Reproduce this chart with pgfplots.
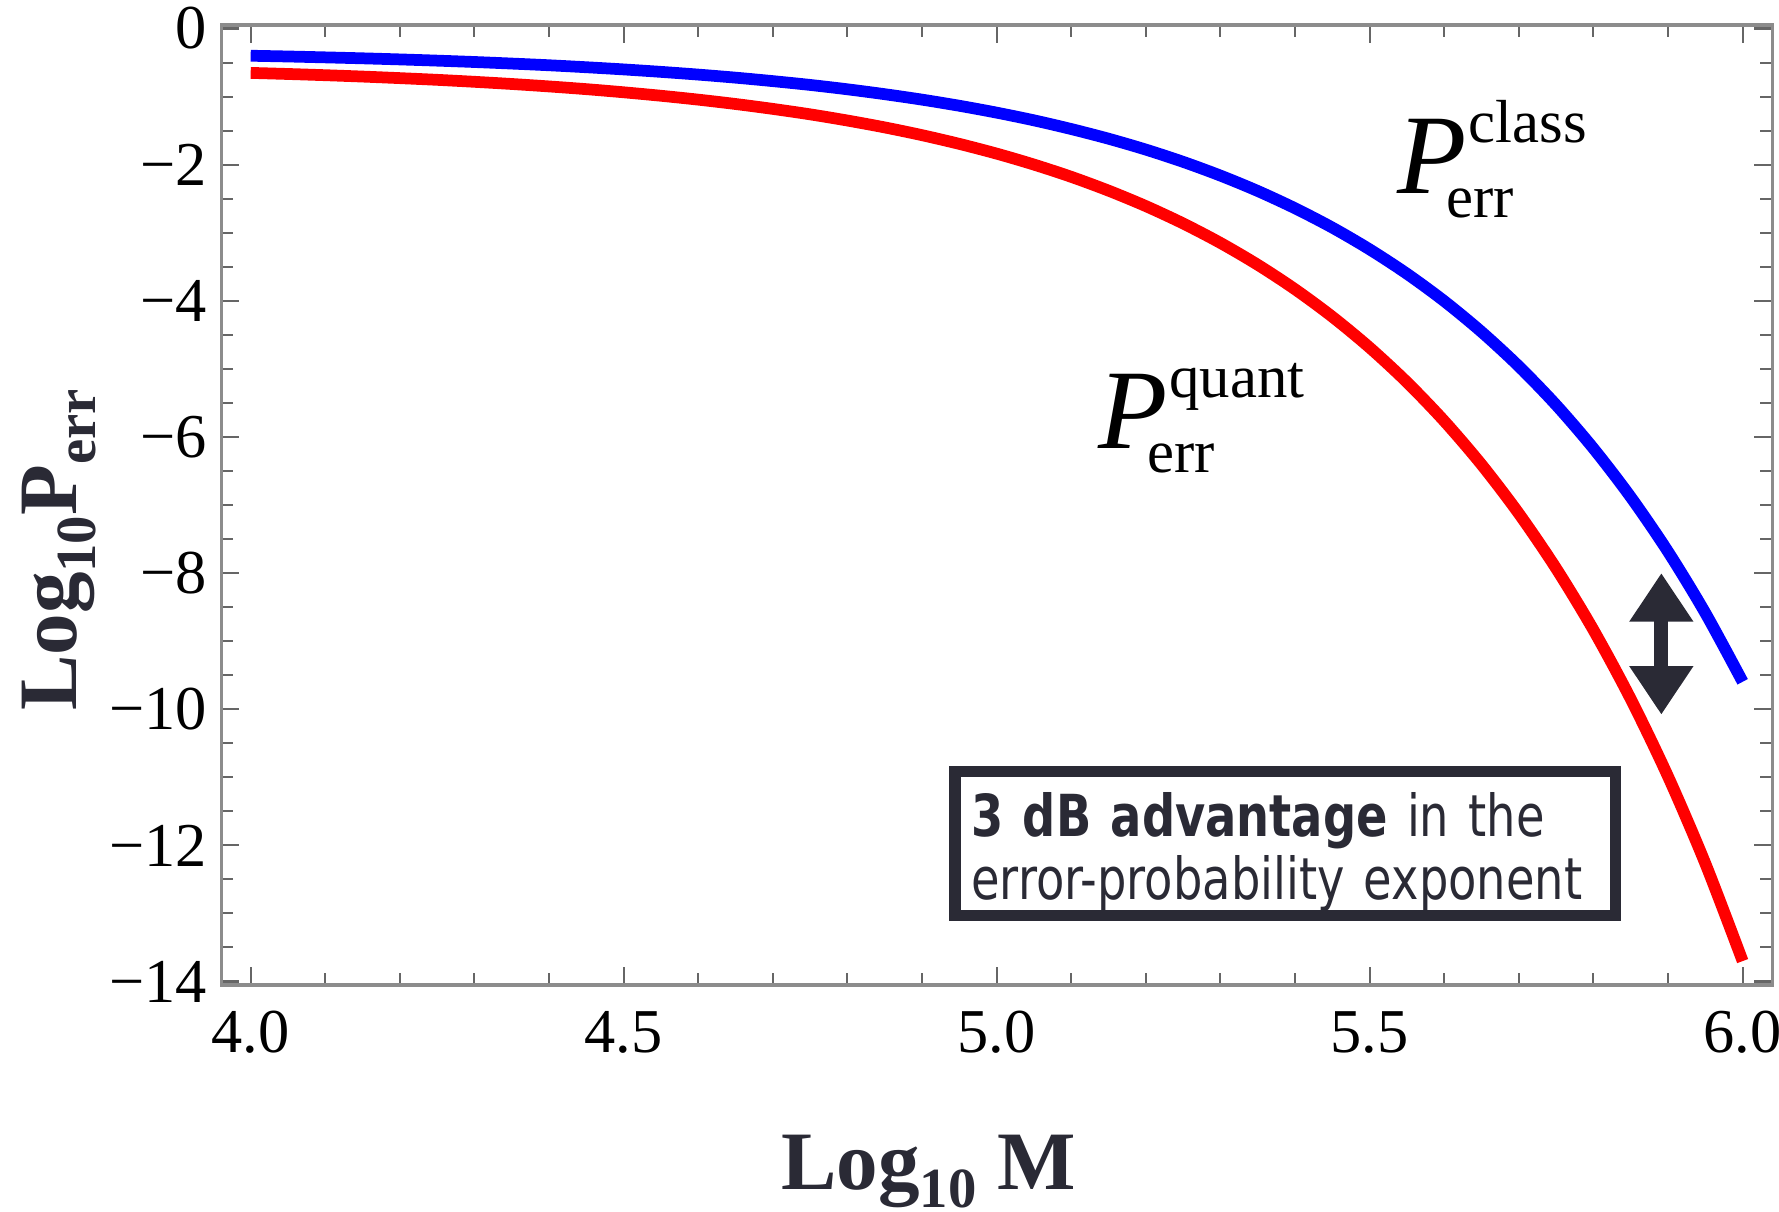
\documentclass[border=0pt]{standalone}
\usepackage{fontspec}
\setmainfont{Liberation Serif}
\newfontfamily\boxfont[FakeStretch=0.8]{DejaVu Sans}
\usepackage{pgfplots}
\pgfplotsset{compat=1.18}
\usetikzlibrary{arrows.meta}
\definecolor{inkdark}{RGB}{42,42,53}
\definecolor{framegray}{RGB}{140,140,140}

% lowered small text for subscripts in labels
\newcommand{\sublow}[1]{\raisebox{-4.6pt}{\fontsize{14}{14}\selectfont #1}}
% big italic P with err below and tag above
\newcommand{\Plabel}[1]{{\fontsize{28}{28}\selectfont\itshape P}\rlap{\kern-5pt\raisebox{-6pt}{\fontsize{15}{15}\selectfont err}}\kern0.5pt\raisebox{12.5pt}{\fontsize{15}{15}\selectfont #1}}

\begin{document}
\begin{tikzpicture}
\begin{axis}[
    scale only axis,
    width=382.8pt, height=236.9pt,
    xmin=3.9605, xmax=6.0395,
    ymin=-14.05, ymax=0.05,
    xtick={4,4.5,5,5.5,6},
    xticklabels={4.0,4.5,5.0,5.5,6.0},
    ytick={-14,-12,-10,-8,-6,-4,-2,0},
    yticklabels={−14,−12,−10,−8,−6,−4,−2,0},
    minor x tick num=4,
    minor y tick num=3,
    tick align=inside,
    major tick length=4.5pt,
    minor tick length=3pt,
    axis line style={framegray, line width=0.8pt},
    tick style={black!60, line width=0.5pt},
    tick label style={font=\fontsize{15.4}{15.4}\selectfont},
    xticklabel style={yshift=-3pt},
    xlabel={\textbf{Log\sublow{10} M}},
    xlabel style={at={(axis description cs:0.456,-0.2128)}, anchor=base,
        font=\fontsize{20.5}{20.5}\selectfont, text=inkdark},
    ylabel={\textbf{Log\sublow{10}P\sublow{err}}},
    ylabel style={at={(axis description cs:-0.093,0.453)}, anchor=base,
        font=\fontsize{20.5}{20.5}\selectfont, text=inkdark},
]

% classical error probability
\addplot[blue, line width=2.9pt, smooth] coordinates {
    (4.00,-0.400) (4.05,-0.411) (4.10,-0.424) (4.15,-0.438) (4.20,-0.454)
    (4.25,-0.472) (4.30,-0.492) (4.35,-0.515) (4.40,-0.540) (4.45,-0.569)
    (4.50,-0.601) (4.55,-0.637) (4.60,-0.677) (4.65,-0.722) (4.70,-0.773)
    (4.75,-0.829) (4.80,-0.893) (4.85,-0.965) (4.90,-1.045) (4.95,-1.135)
    (5.00,-1.236) (5.05,-1.349) (5.10,-1.477) (5.15,-1.619) (5.20,-1.779)
    (5.25,-1.959) (5.30,-2.161) (5.35,-2.387) (5.40,-2.641) (5.45,-2.925)
    (5.50,-3.245) (5.55,-3.603) (5.60,-4.005) (5.65,-4.457) (5.70,-4.963)
    (5.75,-5.531) (5.80,-6.169) (5.85,-6.884) (5.90,-7.686) (5.95,-8.587)
    (6.00,-9.597)
};

% quantum error probability
\addplot[red, line width=2.9pt, smooth] coordinates {
    (4.00,-0.652) (4.05,-0.668) (4.10,-0.686) (4.15,-0.706) (4.20,-0.729)
    (4.25,-0.754) (4.30,-0.783) (4.35,-0.815) (4.40,-0.851) (4.45,-0.891)
    (4.50,-0.937) (4.55,-0.988) (4.60,-1.045) (4.65,-1.109) (4.70,-1.181)
    (4.75,-1.261) (4.80,-1.352) (4.85,-1.453) (4.90,-1.567) (4.95,-1.695)
    (5.00,-1.838) (5.05,-1.999) (5.10,-2.179) (5.15,-2.382) (5.20,-2.609)
    (5.25,-2.864) (5.30,-3.150) (5.35,-3.471) (5.40,-3.831) (5.45,-4.235)
    (5.50,-4.688) (5.55,-5.196) (5.60,-5.767) (5.65,-6.407) (5.70,-7.126)
    (5.75,-7.932) (5.80,-8.836) (5.85,-9.851) (5.90,-10.989) (5.95,-12.267)
    (6.00,-13.700)
};

\draw[inkdark, line width=3.4pt, {Triangle[width=15pt,length=12pt]}-{Triangle[width=15pt,length=12pt]}]
    (axis cs:5.891,-8.0) -- (axis cs:5.891,-10.08);

\node[anchor=base west, inner sep=0] at (axis cs:5.536,-2.42) {\Plabel{class}};
\node[anchor=base west, inner sep=0] at (axis cs:5.135,-6.17) {\Plabel{quant}};

\node[draw=inkdark, line width=2.8pt, text=inkdark, align=left, text width=155pt,
      inner xsep=4pt, inner ysep=0pt, minimum height=35.6pt,
      font=\boxfont\fontsize{14.3}{15.6}\selectfont]
    at (axis cs:5.387,-11.975) {\rule{0pt}{14.9pt}\textbf{3 dB advantage} in the\\error-probability exponent};
\end{axis}
\pgfresetboundingbox
\path ([shift={(-54.6pt,-56pt)}]current axis.south west) rectangle ([shift={(1.7pt,6.2pt)}]current axis.north east);
\end{tikzpicture}
\end{document}
